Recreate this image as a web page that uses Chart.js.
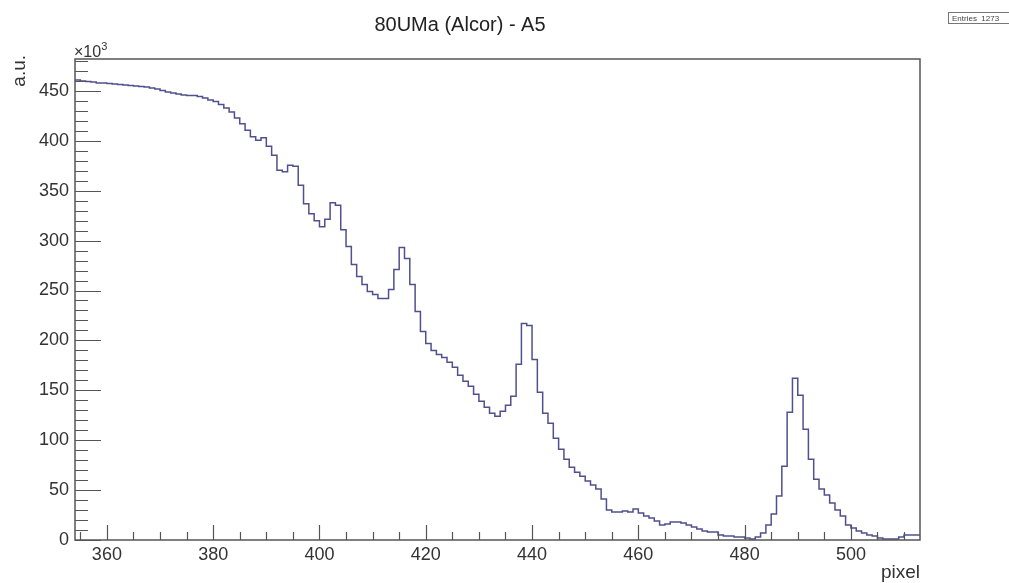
<!DOCTYPE html>
<html>
<head>
<meta charset="utf-8">
<title>80UMa (Alcor) - A5</title>
<script src="https://cdn.jsdelivr.net/npm/chart.js@4.4.1/dist/chart.umd.min.js"></script>
<style>
  html, body { margin: 0; padding: 0; background: #fff; }
  canvas { display: block; }
</style>
</head>
<body>
<canvas id="spectrum" width="1009" height="583"></canvas>
<script>
// A5 spectrum histogram, one bin per pixel, contents in units of 10^3
const firstPixel = 354;
const lastPixel = 513;

const counts = [
  461, 460, 459.5, 459, 458, 458, 457.5, 457, 456.5, 456,          // 354-363
  455.5, 455, 454.5, 454, 453, 452, 450.5, 449, 448, 447,          // 364-373
  446, 445.5, 445.5, 444.5, 443, 441, 439.5, 436.5, 433, 429,      // 374-383
  423, 417, 410.5, 404, 400.5, 403, 394.5, 385.5, 370.5, 369,      // 384-393
  375.5, 374.5, 355.5, 337, 327, 320, 314, 321.5, 338, 335.5,      // 394-403
  311, 294, 276, 264, 256, 249, 246, 242, 242, 251,                // 404-413
  271, 293, 282, 256, 229, 209, 197, 190, 186, 183,                // 414-423
  178, 173, 165, 159, 154, 146, 139, 133, 127, 124,                // 424-433
  129, 135, 144, 176, 217, 215, 181, 148, 127, 117,                // 434-443
  102, 91, 81, 73, 68, 64, 59, 55, 51, 41,                         // 444-453
  30, 28, 28, 29, 28, 31, 27, 24, 22, 19,                          // 454-463
  15, 16, 18, 18, 17, 15, 13, 11, 9, 8,                            // 464-473
  8, 5, 4, 4, 3, 3, 2, 1, 3, 7,                                    // 474-483
  15, 26, 44, 74, 128, 162, 145, 111, 81, 61,                      // 484-493
  51, 45, 37, 30, 24, 15, 12, 9, 7, 5,                             // 494-503
  4, 2, 1, 1, 1, 3, 5, 5, 5                                        // 504-512
];

const xTickLabels = [360, 380, 400, 420, 440, 460, 480, 500];
const yTickLabels = [0, 50, 100, 150, 200, 250, 300, 350, 400, 450];
const yMax = 482;
const entriesText = 'Entries  1273';

// bin left edges, plus the right edge of the last bin
const points = counts.map((c, i) => ({ x: firstPixel + i, y: c }));
points.push({ x: lastPixel, y: counts[counts.length - 1] });

const labelFont = { family: '"Liberation Sans", Arial, sans-serif', size: 18 };

// ROOT style frame: box, inward ticks, axis titles, stats box
const rootFrame = {
  id: 'rootFrame',
  afterDraw(chart) {
    const { ctx, chartArea: a, scales } = chart;
    const x = scales.x, y = scales.y;
    ctx.save();

    ctx.strokeStyle = '#555';
    ctx.lineWidth = 1.5;
    ctx.strokeRect(a.left, a.top, a.right - a.left, a.bottom - a.top);

    ctx.lineWidth = 1.2;
    ctx.beginPath();
    for (let v = 355; v <= 510; v += 5) {
      const px = Math.round(x.getPixelForValue(v)) + 0.5;
      const len = v % 20 === 0 ? 15 : 8;
      ctx.moveTo(px, a.bottom);
      ctx.lineTo(px, a.bottom - len);
    }
    for (let v = 0; v <= yMax; v += 10) {
      const py = Math.round(y.getPixelForValue(v)) + 0.5;
      const len = v % 50 === 0 ? 26 : 13;
      ctx.moveTo(a.left, py);
      ctx.lineTo(a.left + len, py);
    }
    ctx.stroke();

    ctx.fillStyle = '#333';
    ctx.textBaseline = 'alphabetic';

    // exponent above the y axis
    ctx.font = '16px "Liberation Sans", Arial, sans-serif';
    ctx.textAlign = 'left';
    ctx.fillText('\u00d710', a.left - 1, a.top - 2);
    const w = ctx.measureText('\u00d710').width;
    ctx.font = '11px "Liberation Sans", Arial, sans-serif';
    ctx.fillText('3', a.left - 1 + w, a.top - 9);

    // axis titles
    ctx.font = '19px "Liberation Sans", Arial, sans-serif';
    ctx.textAlign = 'right';
    ctx.fillText('pixel', a.right, 578);

    ctx.save();
    ctx.translate(25, a.top - 4);
    ctx.rotate(-Math.PI / 2);
    ctx.textAlign = 'right';
    ctx.fillText('a.u.', 0, 0);
    ctx.restore();

    // stats box, cut by the right edge
    ctx.fillStyle = '#fff';
    ctx.fillRect(948, 12, 80, 11);
    ctx.strokeStyle = '#777';
    ctx.lineWidth = 1;
    ctx.strokeRect(948.5, 12.5, 80, 11);
    ctx.fillStyle = '#444';
    ctx.font = '8px "Liberation Sans", Arial, sans-serif';
    ctx.textAlign = 'left';
    ctx.fillText(entriesText, 952, 21);

    ctx.restore();
  }
};

new Chart(document.getElementById('spectrum'), {
  type: 'scatter',
  data: {
    datasets: [{
      label: 'A5',
      data: points,
      showLine: true,
      stepped: 'before',
      borderColor: '#50508e',
      borderWidth: 1.5,
      pointRadius: 0,
      pointHoverRadius: 0,
      fill: false
    }]
  },
  options: {
    responsive: false,
    animation: false,
    events: [],
    layout: { padding: { left: 0, right: 89, top: 0, bottom: 0 } },
    plugins: {
      legend: { display: false },
      tooltip: { enabled: false },
      title: {
        display: true,
        text: '80UMa (Alcor) - A5',
        color: '#222',
        font: { family: '"Liberation Sans", Arial, sans-serif', size: 20, weight: 'normal' },
        padding: { top: 13, bottom: 22 }
      }
    },
    scales: {
      x: {
        type: 'linear',
        min: firstPixel,
        max: lastPixel,
        grid: { display: false, drawTicks: false },
        border: { display: false },
        afterBuildTicks: s => { s.ticks = xTickLabels.map(v => ({ value: v })); },
        afterFit: s => { s.height = 43; },
        ticks: {
          autoSkip: false,
          maxRotation: 0,
          padding: 4,
          color: '#333',
          font: labelFont
        }
      },
      y: {
        type: 'linear',
        min: 0,
        max: yMax,
        grid: { display: false, drawTicks: false },
        border: { display: false },
        afterBuildTicks: s => { s.ticks = yTickLabels.map(v => ({ value: v })); },
        afterFit: s => { s.width = 75; },
        ticks: {
          autoSkip: false,
          padding: 6,
          color: '#333',
          font: labelFont
        }
      }
    }
  },
  plugins: [rootFrame]
});
</script>
</body>
</html>
